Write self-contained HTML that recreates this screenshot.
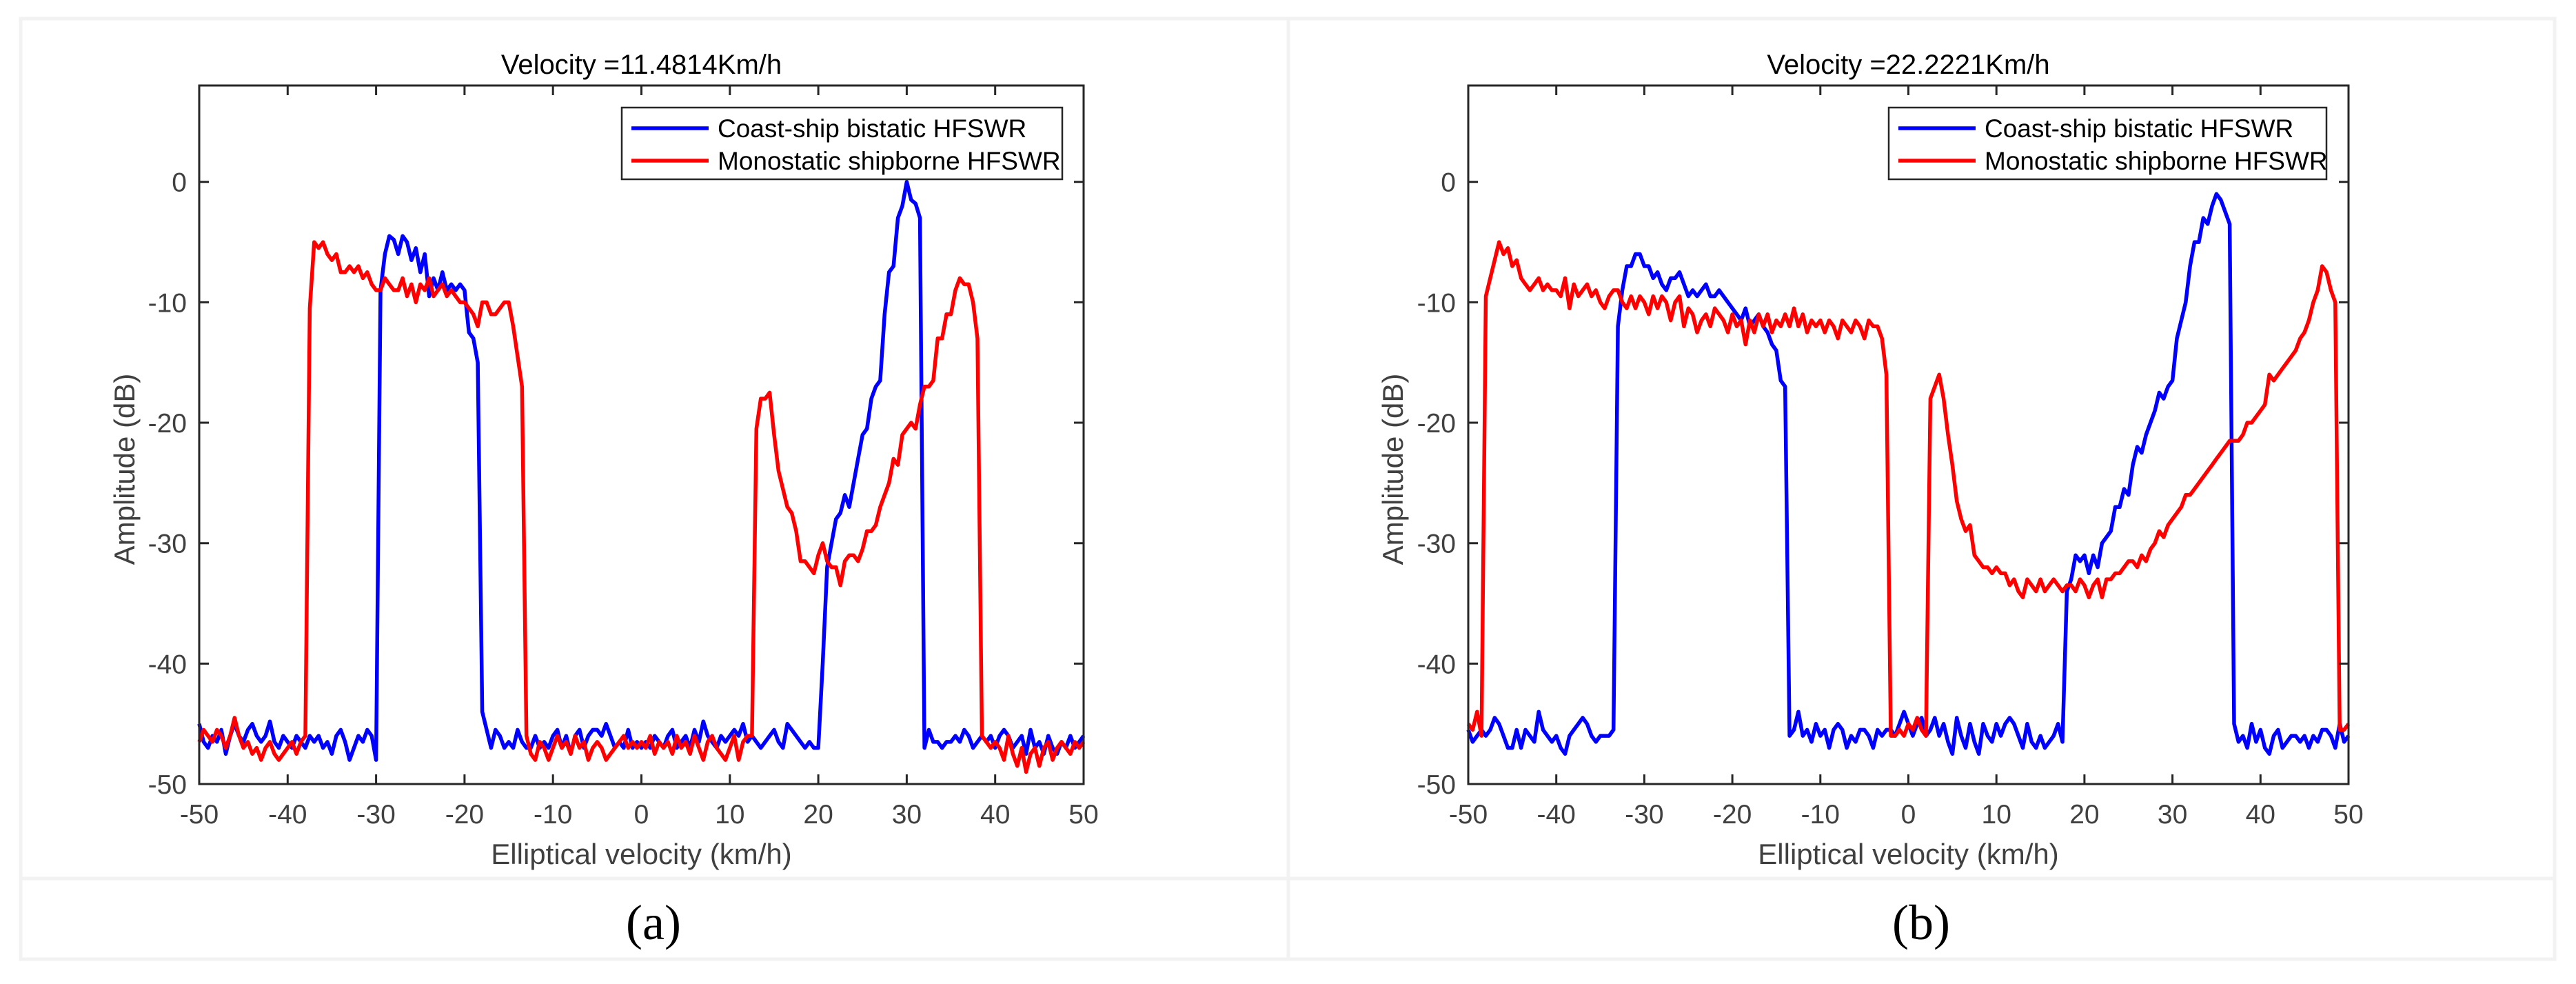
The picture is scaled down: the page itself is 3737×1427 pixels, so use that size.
<!DOCTYPE html>
<html><head><meta charset="utf-8">
<style>
html,body{margin:0;padding:0;background:#fff;}
svg{display:block;}
text{font-family:"Liberation Sans",Arial,sans-serif;}
</style></head>
<body>
<svg id="fig" width="3737" height="1427" viewBox="0 0 3737 1427" xmlns="http://www.w3.org/2000/svg">
  <g fill="none" stroke="#f2f2f2" stroke-width="5">
    <rect x="30" y="27" width="3676" height="1364"/>
    <line x1="30" y1="1274" x2="3706" y2="1274"/>
    <line x1="1869" y1="27" x2="1869" y2="1391"/>
  </g>
  <text x="948" y="1362" font-size="72" text-anchor="middle" style="font-family:'Liberation Serif',serif">(a)</text>
  <text x="2787" y="1362" font-size="72" text-anchor="middle" style="font-family:'Liberation Serif',serif">(b)</text>
</svg>
<script>
const xTicks = [-50,-40,-30,-20,-10,0,10,20,30,40,50];
const yTicks = [0,-10,-20,-30,-40,-50];
const legendLabels = ["Coast-ship bistatic HFSWR","Monostatic shipborne  HFSWR"];
const titles = ["Velocity =11.4814Km/h","Velocity =22.2221Km/h"];
const xStart = -50, xStep = 0.5;
const aBlue = [
-45,-46.5,-47,-46,-46.5,-45.5,-47.5,-46,-45,-46,-46.5,-45.5,-45,-46,-46.5,-46,-44.8,-46.5,-47,-46,
-46.5,-47,-46,-46.5,-47,-46,-46.5,-46,-47,-46.5,-47.5,-46,-45.5,-46.5,-48,-47,-46,-46.5,-45.5,-46,
-48,-9,-6,-4.5,-4.8,-6,-4.5,-5,-6.5,-5.5,-7.5,-6,-9.5,-8,-9,-7.5,-9,-8.5,-9,-8.5,
-9,-12.5,-13,-15,-44,-45.5,-47,-45.5,-46,-47,-46.5,-47,-45.5,-46.5,-47,-47,-46,-47,-46.5,-47,
-46,-45.5,-47,-46,-47.5,-46,-45.5,-47,-46,-45.5,-45.5,-46,-45,-46,-47,-46.5,-47,-45.5,-47,-46.5,
-47,-46.5,-47,-46,-46.5,-47,-46,-45.5,-47,-46.5,-46,-47,-45.5,-46.5,-44.8,-46,-46.5,-47,-46,-46.5,
-46,-45.5,-46,-45,-46.5,-46,-46.5,-47,-46.5,-46,-45.5,-46.5,-47,-45,-45.5,-46,-46.5,-47,-46.5,-47,
-47,-40,-32,-30,-28,-27.5,-26,-27,-25,-23,-21,-20.5,-18,-17,-16.5,-11,-7.5,-7,-3,-2,
0,-1.5,-1.8,-3,-47,-45.5,-46.5,-46.5,-47,-46.5,-46.5,-46,-46.5,-45.5,-46,-47,-46.5,-46,-46.5,-46,
-47,-46,-45.5,-46,-47,-46.5,-46,-47.5,-45.5,-47,-46.5,-47.5,-46,-47,-47.5,-46.5,-47,-46,-47,-46.5,
-46];
const aRed = [
-46.5,-45.5,-46,-46.5,-45.5,-46,-47,-46,-44.5,-46,-47,-46.5,-47.5,-47,-48,-47,-46.5,-47.5,-48,-47.5,
-47,-46.5,-47.5,-46.5,-46,-10.5,-5,-5.5,-5,-6,-6.5,-6,-7.5,-7.5,-7,-7.5,-7,-8,-7.5,-8.5,
-9,-9,-8,-8.5,-9,-9,-8,-9.5,-8.5,-10,-8.5,-9,-8,-9.5,-9,-8.5,-9.5,-9,-9.5,-10,
-10,-10.5,-11,-12,-10,-10,-11,-11,-10.5,-10,-10,-12,-14.5,-17,-46,-47.5,-48,-46.5,-47,-48,
-47,-46,-47,-46.5,-47.5,-46,-47,-46.5,-48,-47,-46.5,-47,-48,-47.5,-47,-46.5,-46,-47,-46.5,-47,
-46.5,-47,-46,-47.5,-46.5,-47,-46.5,-47.5,-46,-47,-46.5,-47.5,-46,-47,-48,-46.5,-46,-47,-47.5,-48,
-47,-46,-48,-46.5,-46,-46,-20.5,-18,-18,-17.5,-21,-24,-25.5,-27,-27.5,-29,-31.5,-31.5,-32,-32.5,
-31,-30,-31.5,-32,-32,-33.5,-31.5,-31,-31,-31.5,-30.5,-29,-29,-28.5,-27,-26,-25,-23,-23.5,-21,
-20.5,-20,-20.5,-18.5,-17,-17,-16.5,-13,-13,-11,-11,-9,-8,-8.5,-8.5,-10,-13,-46,-46.5,-47,
-46.5,-47,-48,-46,-47.5,-48.5,-47,-49,-47.5,-47,-48.5,-47,-46.5,-48,-47,-46.5,-47,-47.5,-46.5,-47,
-46.5];
const bBlue = [
-45.5,-46.5,-46,-45.5,-46,-45.5,-44.5,-45,-46,-47,-47,-45.5,-47,-45.5,-46,-46.5,-44,-45.5,-46,-46.5,
-46,-47,-47.5,-46,-45.5,-45,-44.5,-45,-46,-46.5,-46,-46,-46,-45.5,-12,-9,-7,-7,-6,-6,
-7,-7,-8,-7.5,-8.5,-9,-8,-8,-7.5,-8.5,-9.5,-9,-9.5,-9,-8.5,-9.5,-9.5,-9,-9.5,-10,
-10.5,-11,-11.5,-10.5,-12,-11.5,-11,-12,-12.5,-13.5,-14,-16.5,-17,-46,-45.5,-44,-46,-45.5,-46.5,-45,
-46,-45.5,-47,-45.5,-45,-45.5,-47,-46,-46.5,-45.5,-45.5,-46,-47,-45.5,-46,-45.5,-45.5,-46,-45,-44,
-45,-46,-45,-44.5,-46,-45.5,-44.5,-46,-45,-46.5,-47.5,-44.5,-46,-47,-45,-46.5,-47.5,-45,-46,-46.5,
-45,-46,-45,-44.5,-45,-46,-47,-45,-46.5,-47,-46,-47,-46.5,-46,-45,-46.5,-34,-33,-31,-31.5,
-31,-32.5,-31,-32,-30,-29.5,-29,-27,-27,-25.5,-26,-23.5,-22,-22.5,-21,-20,-19,-17.5,-18,-17,
-16.5,-13,-11.5,-10,-7,-5,-5,-3,-3.5,-2,-1,-1.5,-2.5,-3.5,-45,-46.5,-46,-47,-45,-46.5,
-45.5,-47,-47.5,-46,-45.5,-47,-46.5,-46,-46,-46.5,-46,-47,-46,-46.5,-45.5,-45.5,-46,-47,-45,-46.5,
-46];
const bRed = [
-45,-45.5,-44,-46,-9.5,-8,-6.5,-5,-6,-5.5,-7,-6.5,-8,-8.5,-9,-8.5,-8,-9,-8.5,-9,
-9,-9.5,-8,-10.5,-8.5,-9.5,-9,-8.5,-9.5,-9,-10,-10.5,-9.5,-9,-9,-10,-10.5,-9.5,-10.5,-9.5,
-10,-11,-9.5,-10.5,-9.5,-10,-11.5,-10,-9.5,-12,-10.5,-11,-12.5,-11.5,-11,-12,-10.5,-11,-11.5,-12.5,
-11,-12,-11.5,-13.5,-11.5,-12.5,-11,-12,-11,-12.5,-11.5,-12,-11,-12,-10.5,-12,-11,-12.5,-11.5,-12,
-11.5,-12.5,-11.5,-12,-13,-11.5,-12,-12.5,-11.5,-12,-13,-11.5,-12,-12,-13,-16,-46,-46,-45.5,-46,
-45,-45.5,-44.5,-45.5,-46,-18,-17,-16,-18,-21,-23.5,-26.5,-28,-29,-28.5,-31,-31.5,-32,-32,-32.5,
-32,-32.5,-32.5,-33.5,-33,-34,-34.5,-33,-33.5,-34,-33,-34,-33.5,-33,-33.5,-34,-33.5,-33.5,-34,-33,
-33.5,-34.5,-33.5,-33,-34.5,-33,-33,-32.5,-32.5,-32,-31.5,-31.5,-32,-31,-31.5,-30.5,-30,-29,-29.5,-28.5,
-28,-27.5,-27,-26,-26,-25.5,-25,-24.5,-24,-23.5,-23,-22.5,-22,-21.5,-21.5,-21.5,-21,-20,-20,-19.5,
-19,-18.5,-16,-16.5,-16,-15.5,-15,-14.5,-14,-13,-12.5,-11.5,-10,-9,-7,-7.5,-9,-10,-45.5,-45.5,
-45];

const NS = "http://www.w3.org/2000/svg";
const svg = document.getElementById('fig');
function mk(tag, attrs, parent){
  const e = document.createElementNS(NS, tag);
  for (const k in attrs) e.setAttribute(k, attrs[k]);
  (parent||svg).appendChild(e);
  return e;
}
function panel(p){
  const L=p.left, R=p.right, T=124, B=1137;
  const yMin=-50, yMax=8;
  const sx = v => L + (v - (-50)) / 100 * (R - L);
  const sy = v => B - (v - yMin) / (yMax - yMin) * (B - T);
  const g = mk('g', {});
  
  

  const t = mk('text', {x:(L+R)/2, y:107, 'font-size':40, 'text-anchor':'middle', fill:'#000'}, g);
  t.textContent = p.title;
  
  

  // series
  const series = [[p.blue,'#0000ff','coast-ship-line'],[p.red,'#ff0000','monostatic-line']];
  series.forEach(s=>{
    const pts = s[0].map((v,i)=> sx(xStart + i*xStep).toFixed(1)+','+sy(v).toFixed(1)).join(' ');
    const pl = mk('polyline', {points:pts, fill:'none', stroke:s[1], 'stroke-width':5.5, 'stroke-linejoin':'round'}, g);
    
    
  });
  // axes box
  const box = mk('rect', {x:L, y:T, width:R-L, height:B-T, fill:'none', stroke:'#262626', 'stroke-width':3}, g);
  
  
  xTicks.forEach(v=>{
    const x = sx(v);
    const tk = mk('path', {d:`M${x},${B}v-14M${x},${T}v14`, stroke:'#262626', 'stroke-width':3}, g);
    
    
    const lb = mk('text', {x:x, y:1194, 'font-size':39, 'text-anchor':'middle', fill:'#404040'}, g);
    lb.textContent = v;
    
    
  });
  yTicks.forEach(v=>{
    const y = sy(v);
    const tk = mk('path', {d:`M${L},${y}h14M${R},${y}h-14`, stroke:'#262626', 'stroke-width':3}, g);
    
    
    const lb = mk('text', {x:L-18, y:y+14, 'font-size':39, 'text-anchor':'end', fill:'#404040'}, g);
    lb.textContent = v;
    
    
  });
  const xl = mk('text', {x:(L+R)/2, y:1253, 'font-size':42, 'text-anchor':'middle', fill:'#404040'}, g);
  xl.textContent = 'Elliptical velocity (km/h)';
  
  
  const yl = mk('text', {x:0, y:0, 'font-size':42, 'text-anchor':'middle', fill:'#404040', transform:`translate(${p.ylabX},${(T+B)/2+50}) rotate(-90)`}, g);
  yl.textContent = 'Amplitude (dB)';
  
  
  // legend
  const lg = mk('g', {}, g);
  
  
  mk('rect', {x:p.legX, y:156, width:p.legW, height:104, fill:'#fff', stroke:'#262626', 'stroke-width':2.5}, lg);
  [['#0000ff',189],['#ff0000',236]].forEach((c,i)=>{
    const ln = mk('line', {x1:p.legX+14, x2:p.legX+126, y1:c[1]-3, y2:c[1]-3, stroke:c[0], 'stroke-width':5.5}, lg);
    
    
    const tx = mk('text', {x:p.legX+139, y:c[1]+10, 'font-size':37, fill:'#000'}, lg);
    tx.textContent = legendLabels[i];
    
    
  });
}
panel({id:'a', left:289, right:1572, title:titles[0], blue:aBlue, red:aRed, legX:902, legW:639, ylabX:195});
panel({id:'b', left:2130, right:3407, title:titles[1], blue:bBlue, red:bRed, legX:2740, legW:635, ylabX:2035});
</script>
</body></html>
